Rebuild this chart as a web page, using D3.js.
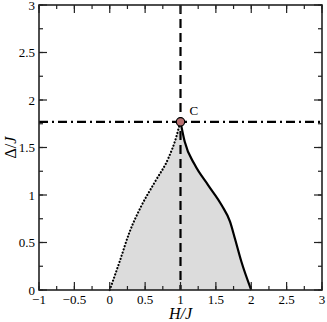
<!DOCTYPE html>
<html><head><meta charset="utf-8">
<script src="https://cdn.jsdelivr.net/npm/d3@7"></script>
<style>body{margin:0;background:#fff}svg{display:block}text{font-family:"Liberation Serif","Times New Roman",Times,serif}</style>
</head><body><svg id="c" width="327" height="322"></svg>
<script>
const xTicks = [-1, -0.5, 0, 0.5, 1, 1.5, 2, 2.5, 3];
const yTicks = [0, 0.5, 1, 1.5, 2, 2.5, 3];
const dottedH = [0, 0.14, 0.28, 0.45, 0.64, 0.83, 0.94, 0.98, 1.0];
const dottedD = [0, 0.30, 0.61, 0.89, 1.14, 1.39, 1.61, 1.72, 1.77];
const solidH = [1.0, 1.06, 1.20, 1.39, 1.58, 1.70, 1.77, 1.86, 2.0];
const solidD = [1.77, 1.56, 1.32, 1.105, 0.895, 0.72, 0.54, 0.30, 0];
const pointC = {h: 1.0, d: 1.77, label: "C"};

const svg = d3.select("#c");
const L = 39, R = 322, T = 5, B = 290;
const x = d3.scaleLinear().domain([-1, 3]).range([L, R]);
const y = d3.scaleLinear().domain([0, 3]).range([B, T]);

const dotted = dottedH.map((h, i) => [h, dottedD[i]]);
const solid = solidH.map((h, i) => [h, solidD[i]]);
const line = d3.line().x(d => x(d[0])).y(d => y(d[1])).curve(d3.curveMonotoneX);

// fill region
const region = line(dotted) + "L" + line(solid).slice(1) + "Z";
svg.append("path").attr("d", region).attr("fill", "#dcdcdc").attr("stroke", "none");

// reference lines
svg.append("line").attr("x1", x(pointC.h)).attr("x2", x(pointC.h)).attr("y1", y(3)).attr("y2", y(0))
  .attr("stroke", "#000").attr("stroke-width", 2.2).attr("stroke-dasharray", "9,5");
svg.append("line").attr("x1", x(-1)).attr("x2", x(3)).attr("y1", y(pointC.d)).attr("y2", y(pointC.d))
  .attr("stroke", "#000").attr("stroke-width", 2.2).attr("stroke-dasharray", "9,4,2,4");

svg.append("path").attr("d", line(dotted)).attr("fill", "none").attr("stroke", "#000")
  .attr("stroke-width", 2.2).attr("stroke-dasharray", "0.1,3.2").attr("stroke-linecap", "round");
svg.append("path").attr("d", line(solid)).attr("fill", "none").attr("stroke", "#000").attr("stroke-width", 2.2);

svg.append("circle").attr("cx", x(pointC.h)).attr("cy", y(pointC.d)).attr("r", 4.2)
  .attr("fill", "#b87070").attr("stroke", "#000").attr("stroke-width", 1.2);
svg.append("text").attr("x", x(pointC.h) + 9).attr("y", y(pointC.d) - 7)
  .attr("font-size", 13).text(pointC.label);

// axes with inward ticks on all sides
const xMinor = d3.range(-1, 3.001, 0.25);
const yMinor = d3.range(0, 3.001, 0.25);
const axCol = "#222";
function tickLines(g, vals, len, orient) {
  vals.forEach(v => {
    if (orient === "b") g.append("line").attr("x1", x(v)).attr("x2", x(v)).attr("y1", B).attr("y2", B - len);
    if (orient === "t") g.append("line").attr("x1", x(v)).attr("x2", x(v)).attr("y1", T).attr("y2", T + len);
    if (orient === "l") g.append("line").attr("y1", y(v)).attr("y2", y(v)).attr("x1", L).attr("x2", L + len);
    if (orient === "r") g.append("line").attr("y1", y(v)).attr("y2", y(v)).attr("x1", R).attr("x2", R - len);
  });
}
const tg = svg.append("g").attr("stroke", axCol).attr("stroke-width", 1.2);
["b", "t"].forEach(o => { tickLines(tg, xMinor, 4, o); tickLines(tg, xTicks, 8, o); });
["l", "r"].forEach(o => { tickLines(tg, yMinor, 4, o); tickLines(tg, yTicks, 8, o); });
svg.append("rect").attr("x", L).attr("y", T).attr("width", R - L).attr("height", B - T)
  .attr("fill", "none").attr("stroke", axCol).attr("stroke-width", 1.6);

// tick labels
svg.append("g").selectAll("text").data(xTicks).join("text")
  .attr("x", d => x(d)).attr("y", B + 14).attr("text-anchor", "middle").attr("font-size", 13)
  .text(d => d3.format("")(d));
svg.append("g").selectAll("text").data(yTicks).join("text")
  .attr("x", L - 4).attr("y", d => y(d) + 4.5).attr("text-anchor", "end").attr("font-size", 13)
  .text(d => d3.format("")(d));

svg.append("text").attr("x", x(1)).attr("y", B + 29).attr("text-anchor", "middle")
  .attr("font-size", 16).attr("font-style", "italic").text("H/J");
svg.append("text").attr("transform", `translate(16,${y(1.5)}) rotate(-90)`).attr("text-anchor", "middle")
  .attr("font-size", 16).html('Δ/<tspan font-style="italic">J</tspan>');
</script></body></html>
